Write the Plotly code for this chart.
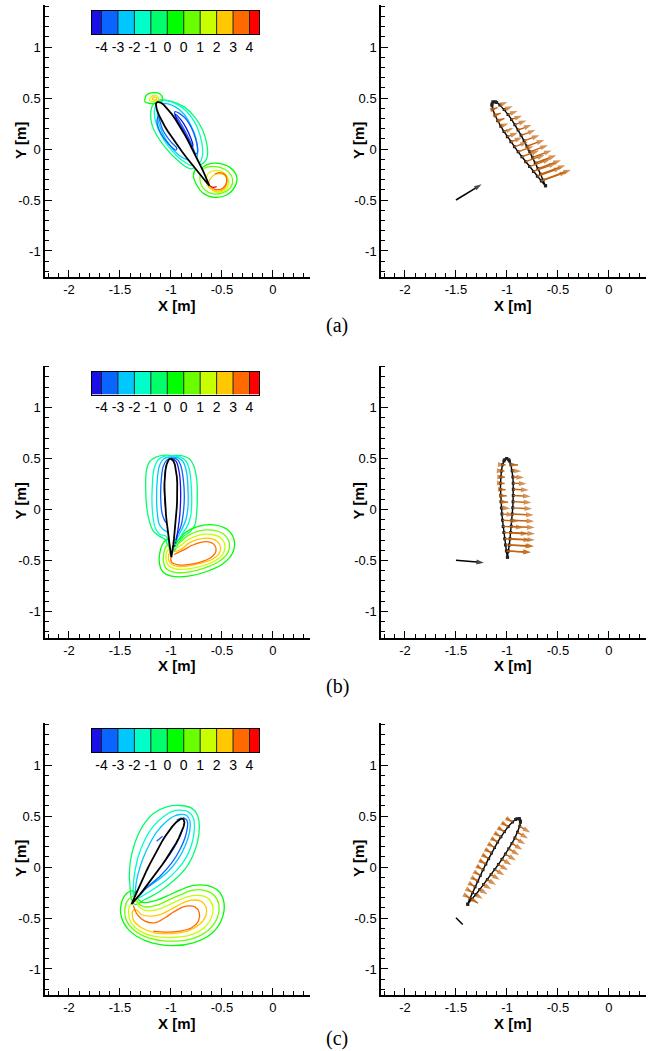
import numpy as np
import plotly.graph_objects as go

# ---------------- data ----------------
CB_COLORS = ["#1a10e8", "#0a64ff", "#00c8ff", "#00ffc8", "#00ff6a", "#00ff00",
             "#6aff00", "#c8ff00", "#ffc800", "#ff6a00", "#ff0000"]
CB_LEVELS = [-4.05, -3.15, -2.25, -1.35, -0.45, 0.45, 1.35, 2.25, 3.15, 4.05]
CB_LABELS = ["-4", "-3", "-2", "-1", "0", "0", "1", "2", "3", "4"]
CB_ENDS = [-4.57, 4.57]

X_TICKS = [-2, -1.5, -1, -0.5, 0]
X_TICK_TEXT = ["-2", "-1.5", "-1", "-0.5", "0"]
Y_TICKS = [-1, -0.5, 0, 0.5, 1]
Y_TICK_TEXT = ["-1", "-0.5", "0", "0.5", "1"]
X_RANGE = [-2.235, 0.36]
Y_RANGE = [-1.255, 1.412]

# symmetric foil: chord stations and half thickness (fraction of chord)
FOIL_S = [0, 0.0125, 0.025, 0.0625, 0.125, 0.1875, 0.25, 0.3125, 0.375, 0.4375,
          0.5, 0.5625, 0.625, 0.6875, 0.75, 0.8125, 0.875, 0.9375, 1.0]
FOIL_T = [0, 0.0205, 0.0283, 0.0423, 0.0548, 0.0613, 0.0644, 0.0650, 0.0638,
          0.0611, 0.0574, 0.0526, 0.0472, 0.0410, 0.0342, 0.0269, 0.0190,
          0.0105, 0.0014]

FOIL_LE = {"a": (-1.137, 0.462), "b": (-1.003, 0.500), "c": (-0.879, 0.473)}
FOIL_TE = {"a": (-0.622, -0.360), "b": (-0.995, -0.468), "c": (-1.385, -0.365)}

# arrows at stations 0.0625 ... 0.9375 (indices into FOIL_S)
ARROW_IDX = list(range(3, 18))
ARROW_ANGLE = {"a": 20.0, "b": -3.0, "c": -31.0}
ARROW_LEN_UP = {
    "a": [0.08, 0.09, 0.10, 0.11, 0.12, 0.14, 0.15, 0.16, 0.18, 0.19, 0.20, 0.22, 0.24, 0.26, 0.29],
    "b": [0.07, 0.09, 0.11, 0.13, 0.15, 0.17, 0.18, 0.19, 0.21, 0.22, 0.23, 0.24, 0.245, 0.245, 0.22],
    "c": [0.12, 0.12, 0.12, 0.12, 0.12, 0.12, 0.11, 0.11, 0.11, 0.10, 0.10, 0.09, 0.09, 0.08, 0.07],
}
ARROW_LEN_LO = {
    "a": [0.05, 0.06, 0.07, 0.08, 0.10, 0.11, 0.12, 0.14, 0.16, 0.18, 0.20, 0.22, 0.24, 0.25, 0.27],
    "b": [0.03, 0.03, 0.04, 0.04, 0.05, 0.06, 0.07, 0.09, 0.12, 0.16, 0.20, 0.24, 0.26, 0.27, 0.24],
    "c": [0.07, 0.07, 0.07, 0.07, 0.07, 0.07, 0.07, 0.07, 0.07, 0.07, 0.06, 0.06, 0.06, 0.05, 0.05],
}
LOWER_TIP_ON_SURFACE = {"a": False, "b": False, "c": True}
REF_ARROW_BASE = {"a": (-1.5, -0.5), "b": (-1.5, -0.497), "c": (-1.5, -0.498)}
REF_ARROW_VEC = {"a": (0.252, 0.154), "b": (0.275, -0.025), "c": (0.066, -0.066)}

# contour lines: (colour index, x list, y list, closed)
CONTOURS = {
    "a": [
        (4, [-1.124, -0.993, -0.863, -0.765, -0.690, -0.650, -0.642, -0.660, -0.700, -0.745, -0.800, -0.845, -0.938, -1.049, -1.141, -1.190, -1.199, -1.180],
            [0.480, 0.467, 0.408, 0.310, 0.186, 0.056, -0.060, -0.115, -0.150, -0.165, -0.195, -0.180, -0.108, 0.007, 0.137, 0.252, 0.350, 0.431], True),
        (3, [-1.092, -0.961, -0.853, -0.771, -0.716, -0.690, -0.696, -0.720, -0.760, -0.800, -0.895, -1.010, -1.098, -1.147, -1.163, -1.141],
            [0.474, 0.448, 0.376, 0.268, 0.137, 0.007, -0.090, -0.135, -0.150, -0.160, -0.108, 0.007, 0.137, 0.258, 0.366, 0.441], True),
        (2, [-1.075, -0.961, -0.873, -0.807, -0.755, -0.739, -0.748, -0.790, -0.830, -0.912, -1.010, -1.082, -1.124, -1.134, -1.114],
            [0.448, 0.415, 0.343, 0.235, 0.105, -0.026, -0.090, -0.110, -0.110, -0.069, 0.033, 0.154, 0.268, 0.366, 0.431], True),
        (1, [-0.960, -0.875, -0.805, -0.755, -0.738, -0.755, -0.795, -0.850, -0.915, -0.965],
            [0.366, 0.317, 0.219, 0.088, -0.026, -0.049, 0.039, 0.154, 0.268, 0.350], True),
        (1, [-1.125, -1.080, -1.003, -0.943, -0.953, -1.023, -1.100, -1.137],
            [0.317, 0.186, 0.072, 0.007, -0.010, 0.049, 0.154, 0.268], True),
        (0, [-0.960, -0.905, -0.850, -0.805, -0.785, -0.795, -0.835, -0.890, -0.945, -0.960],
            [0.340, 0.290, 0.205, 0.105, 0.035, 0.025, 0.100, 0.200, 0.295, 0.340], False),
        (5, [-0.780, -0.748, -0.700, -0.640, -0.536, -0.422, -0.356, -0.373, -0.454, -0.569, -0.683, -0.748],
            [-0.255, -0.190, -0.185, -0.150, -0.140, -0.180, -0.271, -0.369, -0.451, -0.474, -0.435, -0.353], True),
        (6, [-0.716, -0.699, -0.618, -0.520, -0.438, -0.395, -0.415, -0.487, -0.585, -0.667, -0.709],
            [-0.271, -0.205, -0.172, -0.180, -0.222, -0.297, -0.376, -0.428, -0.441, -0.402, -0.337], True),
        (7, [-0.657, -0.634, -0.569, -0.493, -0.444, -0.438, -0.480, -0.559, -0.618, -0.650],
            [-0.304, -0.239, -0.212, -0.225, -0.278, -0.353, -0.408, -0.422, -0.386, -0.343], True),
        (8, [-0.625, -0.560, -0.490, -0.455, -0.455, -0.500, -0.570, -0.618],
            [-0.375, -0.410, -0.400, -0.350, -0.280, -0.245, -0.250, -0.300], True),
        (9, [-0.618, -0.569, -0.493, -0.454, -0.467, -0.520, -0.569],
            [-0.363, -0.395, -0.386, -0.320, -0.255, -0.232, -0.245], False),
        (10, [-0.618, -0.585, -0.552], [-0.363, -0.376, -0.369], False),
        (5, [-1.255, -1.239, -1.173, -1.108, -1.082, -1.098, -1.160, -1.225],
            [0.464, 0.529, 0.552, 0.539, 0.497, 0.454, 0.445, 0.450], True),
        (7, [-1.210, -1.190, -1.155, -1.125, -1.130, -1.170],
            [0.480, 0.515, 0.525, 0.505, 0.475, 0.465], True),
        (8, [-1.185, -1.165, -1.140, -1.150], [0.490, 0.510, 0.500, 0.480], True),
    ],
    "b": [
        (4, [-0.993, -0.895, -0.820, -0.775, -0.748, -0.742, -0.748, -0.765, -0.807, -0.873, -0.928, -0.971, -1.026, -1.059, -1.114, -1.173, -1.212, -1.239, -1.248, -1.239, -1.206, -1.141, -1.059],
            [0.529, 0.529, 0.497, 0.425, 0.294, 0.131, -0.033, -0.147, -0.212, -0.261, -0.333, -0.408, -0.359, -0.294, -0.261, -0.212, -0.114, 0.033, 0.229, 0.392, 0.474, 0.516, 0.533], True),
        (3, [-0.993, -0.912, -0.853, -0.820, -0.801, -0.797, -0.807, -0.840, -0.895, -0.951, -0.984, -1.010, -1.049, -1.108, -1.147, -1.173, -1.186, -1.183, -1.167, -1.124, -1.059],
            [0.523, 0.516, 0.474, 0.392, 0.229, 0.065, -0.065, -0.163, -0.245, -0.343, -0.418, -0.376, -0.261, -0.245, -0.196, -0.098, 0.065, 0.229, 0.392, 0.490, 0.523], True),
        (2, [-0.993, -0.928, -0.879, -0.846, -0.833, -0.833, -0.853, -0.895, -0.944, -0.977, -1.003, -1.026, -1.075, -1.114, -1.134, -1.141, -1.134, -1.114, -1.069],
            [0.513, 0.507, 0.464, 0.359, 0.196, 0.033, -0.098, -0.196, -0.294, -0.392, -0.327, -0.229, -0.196, -0.147, -0.033, 0.131, 0.294, 0.425, 0.497], True),
        (1, [-0.993, -0.938, -0.902, -0.879, -0.869, -0.879, -0.902, -0.944, -0.977, -1.000, -1.020, -1.059, -1.088, -1.101, -1.095, -1.075, -1.042],
            [0.503, 0.490, 0.425, 0.294, 0.131, -0.033, -0.163, -0.261, -0.376, -0.294, -0.163, -0.114, -0.033, 0.131, 0.294, 0.425, 0.484], True),
        (0, [-0.993, -0.951, -0.918, -0.905, -0.912, -0.931, -0.964, -0.990, -1.010, -1.042, -1.062, -1.059, -1.036],
            [0.497, 0.474, 0.359, 0.163, -0.033, -0.196, -0.359, -0.261, -0.098, -0.033, 0.131, 0.327, 0.458], True),
        (5, [-0.938, -0.863, -0.748, -0.585, -0.448, -0.382, -0.395, -0.487, -0.650, -0.830, -0.993, -1.082, -1.114, -1.108, -1.075, -1.026, -0.971],
            [-0.310, -0.229, -0.170, -0.150, -0.196, -0.294, -0.425, -0.529, -0.608, -0.654, -0.654, -0.608, -0.523, -0.418, -0.327, -0.288, -0.301], True),
        (6, [-0.918, -0.840, -0.732, -0.592, -0.480, -0.428, -0.444, -0.526, -0.667, -0.830, -0.977, -1.049, -1.075, -1.069, -1.042, -1.003, -0.951],
            [-0.327, -0.261, -0.212, -0.203, -0.245, -0.327, -0.425, -0.507, -0.572, -0.614, -0.614, -0.578, -0.507, -0.418, -0.353, -0.327, -0.343], True),
        (7, [-0.905, -0.830, -0.722, -0.601, -0.513, -0.471, -0.487, -0.559, -0.683, -0.830, -0.961, -1.026, -1.049, -1.042, -1.010, -0.951],
            [-0.353, -0.294, -0.252, -0.245, -0.278, -0.353, -0.431, -0.497, -0.549, -0.582, -0.582, -0.549, -0.484, -0.418, -0.376, -0.376], True),
        (8, [-0.895, -0.820, -0.716, -0.611, -0.546, -0.513, -0.533, -0.598, -0.716, -0.840, -0.951, -1.010, -1.026, -1.003, -0.944],
            [-0.386, -0.327, -0.288, -0.284, -0.314, -0.376, -0.441, -0.490, -0.529, -0.556, -0.556, -0.523, -0.464, -0.418, -0.408], True),
        (9, [-0.971, -0.879, -0.797, -0.699, -0.618, -0.569, -0.559, -0.592, -0.683, -0.814, -0.928, -0.993, -1.003],
            [-0.441, -0.399, -0.353, -0.320, -0.320, -0.353, -0.408, -0.458, -0.507, -0.539, -0.542, -0.516, -0.474], False),
    ],
    "c": [
        (4, [-0.912, -0.797, -0.739, -0.722, -0.742, -0.788, -0.853, -0.961, -1.108, -1.255, -1.353, -1.386, -1.402, -1.408, -1.395, -1.353, -1.278, -1.173, -1.042],
            [0.603, 0.577, 0.505, 0.384, 0.237, 0.106, -0.008, -0.123, -0.237, -0.319, -0.368, -0.319, -0.188, -0.074, 0.074, 0.237, 0.400, 0.525, 0.590], True),
        (3, [-0.912, -0.830, -0.781, -0.771, -0.797, -0.853, -0.938, -1.059, -1.206, -1.320, -1.363, -1.369, -1.353, -1.320, -1.255, -1.173, -1.075, -0.993],
            [0.557, 0.541, 0.482, 0.368, 0.221, 0.090, -0.025, -0.139, -0.237, -0.302, -0.286, -0.188, -0.041, 0.106, 0.270, 0.400, 0.492, 0.544], True),
        (2, [-0.912, -0.846, -0.814, -0.820, -0.863, -0.928, -1.026, -1.157, -1.288, -1.343, -1.343, -1.320, -1.278, -1.212, -1.134, -1.042, -0.971],
            [0.515, 0.505, 0.449, 0.335, 0.204, 0.080, -0.041, -0.149, -0.237, -0.270, -0.172, -0.057, 0.074, 0.221, 0.351, 0.449, 0.498], True),
        (1, [-0.879, -0.840, -0.853, -0.912, -0.993, -1.108, -1.239, -1.337, -1.353, -1.288, -1.173, -1.059, -0.971, -0.905, -0.873],
            [0.482, 0.449, 0.319, 0.172, 0.041, -0.090, -0.204, -0.302, -0.270, -0.188, -0.074, 0.057, 0.188, 0.319, 0.433], True),
        (1, [-1.141, -1.082], [0.253, 0.302], False),
        (1, [-0.944, -0.895], [0.459, 0.482], False),
        (5, [-1.369, -1.435, -1.487, -1.484, -1.402, -1.239, -1.010, -0.781, -0.601, -0.503, -0.480, -0.533, -0.650, -0.781, -0.912, -1.042, -1.173, -1.288, -1.337],
            [-0.237, -0.260, -0.358, -0.498, -0.629, -0.727, -0.770, -0.743, -0.652, -0.515, -0.351, -0.237, -0.181, -0.181, -0.227, -0.286, -0.335, -0.345, -0.292], True),
        (6, [-1.353, -1.418, -1.451, -1.441, -1.369, -1.222, -1.010, -0.797, -0.634, -0.546, -0.533, -0.585, -0.683, -0.797, -0.912, -1.026, -1.147, -1.255, -1.320],
            [-0.286, -0.319, -0.400, -0.515, -0.613, -0.694, -0.727, -0.704, -0.619, -0.498, -0.358, -0.270, -0.227, -0.230, -0.276, -0.325, -0.377, -0.391, -0.358], True),
        (7, [-1.343, -1.402, -1.415, -1.386, -1.304, -1.173, -0.993, -0.814, -0.676, -0.601, -0.592, -0.644, -0.732, -0.840, -0.944, -1.049, -1.157, -1.255, -1.310],
            [-0.335, -0.377, -0.466, -0.554, -0.629, -0.678, -0.691, -0.668, -0.596, -0.489, -0.377, -0.302, -0.279, -0.292, -0.335, -0.384, -0.423, -0.426, -0.391], True),
        (8, [-1.376, -1.363, -1.288, -1.157, -0.993, -0.840, -0.722, -0.657, -0.657, -0.709, -0.797, -0.895, -1.003, -1.108, -1.206, -1.288, -1.343],
            [-0.433, -0.531, -0.596, -0.645, -0.652, -0.629, -0.564, -0.475, -0.391, -0.335, -0.325, -0.358, -0.417, -0.466, -0.482, -0.466, -0.417], True),
        (9, [-1.369, -1.330, -1.255, -1.157, -1.059, -0.961, -0.853, -0.765, -0.722, -0.732, -0.797, -0.912, -1.042, -1.173],
            [-0.377, -0.466, -0.531, -0.547, -0.498, -0.433, -0.384, -0.391, -0.449, -0.531, -0.596, -0.629, -0.639, -0.629], False),
    ],
}

PANEL_LABELS = {"a": "(a)", "b": "(b)", "c": "(c)"}

# ---------------- layout geometry ----------------
W, H = 652, 1051
ARROW_COLOR = "#c2640f"
PANEL_DY = {"a": 0.0, "b": 360.5, "c": 718.0}
LABEL_Y = {"a": 325, "b": 686, "c": 1038}
X_DOM_L = [45 / W, 309.7 / W]
X_DOM_R = [381 / W, 645.7 / W]
CB_X_DOM = [92 / W, 259 / W]
AX = {"a": (1, 2, 7), "b": (3, 4, 8), "c": (5, 6, 9)}

fig = go.Figure()


def foil_outline(p):
    le = np.array(FOIL_LE[p]); te = np.array(FOIL_TE[p])
    chord = te - le
    c = np.linalg.norm(chord)
    u = chord / c
    n = np.array([-u[1], u[0]])
    s = np.array(FOIL_S); t = np.array(FOIL_T)
    up = le[None, :] + (s * c)[:, None] * u[None, :] + (t * c)[:, None] * n[None, :]
    lo = le[None, :] + (s * c)[:, None] * u[None, :] - (t * c)[:, None] * n[None, :]
    return up, lo


def axname(i, kind):
    return kind if i == 1 else f"{kind}{i}"


for p in ["a", "b", "c"]:
    il, ir, ic = AX[p]
    xl, yl = axname(il, "x"), axname(il, "y")
    xr, yr = axname(ir, "x"), axname(ir, "y")
    xc, yc = axname(ic, "x"), axname(ic, "y")

    # contour lines
    for ci, xs, ys, closed in CONTOURS[p]:
        xs2 = list(xs) + ([xs[0]] if closed else [])
        ys2 = list(ys) + ([ys[0]] if closed else [])
        fig.add_trace(go.Scatter(x=xs2, y=ys2, mode="lines", xaxis=xl, yaxis=yl,
                                 line=dict(color=CB_COLORS[ci], width=1.3, shape="spline", smoothing=1.0),
                                 hoverinfo="skip", showlegend=False))

    up, lo = foil_outline(p)
    ox = list(up[:, 0]) + list(lo[::-1, 0])
    oy = list(up[:, 1]) + list(lo[::-1, 1])
    fig.add_trace(go.Scatter(x=ox, y=oy, mode="lines", xaxis=xl, yaxis=yl, fill="toself",
                             fillcolor="white", line=dict(color="black", width=1.8),
                             hoverinfo="skip", showlegend=False))

    # right panel: outline + arrows
    fig.add_trace(go.Scatter(x=ox, y=oy, mode="lines+markers", xaxis=xr, yaxis=yr,
                             line=dict(color="black", width=1.4),
                             marker=dict(symbol="square", size=3, color="#222222"),
                             hoverinfo="skip", showlegend=False))
    ang = np.deg2rad(ARROW_ANGLE[p])
    d = np.array([np.cos(ang), np.sin(ang)])
    axs, ays, asz = [], [], []
    for k, idx in enumerate(ARROW_IDX):
        b = up[idx]
        tip = b + ARROW_LEN_UP[p][k] * d
        axs += [b[0], tip[0], None]; ays += [b[1], tip[1], None]; asz += [0, 8, 0]
        L = ARROW_LEN_LO[p][k]
        if LOWER_TIP_ON_SURFACE[p]:
            b2 = lo[idx] - L * d; t2 = lo[idx]
        else:
            b2 = lo[idx]; t2 = lo[idx] + L * d
        axs += [b2[0], t2[0], None]; ays += [b2[1], t2[1], None]; asz += [0, 8, 0]
    fig.add_trace(go.Scatter(x=axs, y=ays, mode="lines+markers", xaxis=xr, yaxis=yr,
                             line=dict(color=ARROW_COLOR, width=1.4),
                             marker=dict(symbol="arrow", size=asz, angleref="previous",
                                         color=ARROW_COLOR, line=dict(width=0)),
                             hoverinfo="skip", showlegend=False))
    rb = REF_ARROW_BASE[p]; rv = REF_ARROW_VEC[p]
    fig.add_trace(go.Scatter(x=[rb[0], rb[0] + rv[0]], y=[rb[1], rb[1] + rv[1]],
                             mode="lines+markers", xaxis=xr, yaxis=yr,
                             line=dict(color="black", width=1.5),
                             marker=dict(symbol="arrow", size=[0, 8 if p != "c" else 0],
                                         angleref="previous", color="black", line=dict(width=0)),
                             hoverinfo="skip", showlegend=False))

    # colour legend bar
    edges = [CB_ENDS[0]] + CB_LEVELS + [CB_ENDS[1]]
    nb = len(CB_COLORS)
    cs = []
    for i, col in enumerate(CB_COLORS):
        cs += [[i / nb, col], [(i + 1) / nb, col]]
    fig.add_trace(go.Heatmap(z=[list(range(nb))], x=edges, y=[0, 1], xaxis=xc, yaxis=yc,
                             colorscale=cs, zmin=-0.5, zmax=nb - 0.5, showscale=False,
                             hoverinfo="skip"))
    dx, dy = [], []
    for lv in CB_LEVELS:
        dx += [lv, lv, None]; dy += [0, 1, None]
    fig.add_trace(go.Scatter(x=dx, y=dy, mode="lines", xaxis=xc, yaxis=yc,
                             line=dict(color="#222222", width=1), hoverinfo="skip", showlegend=False))

axis_font = dict(family="Liberation Sans, Arial, sans-serif", size=13, color="black")
cb_font = dict(family="Liberation Sans, Arial, sans-serif", size=14, color="black")
layout = dict(width=W, height=H, margin=dict(l=0, r=0, t=0, b=0),
              paper_bgcolor="white", plot_bgcolor="white", showlegend=False)

minor = dict(ticks="inside", ticklen=4, tickcolor="black", tickwidth=1, dtick=0.1, tick0=0, showgrid=False)
annotations = []
for p in ["a", "b", "c"]:
    il, ir, ic = AX[p]
    off = PANEL_DY[p]
    ydom = [1 - (277 + off) / H, 1 - (5 + off) / H]
    for i, xdom in [(il, X_DOM_L), (ir, X_DOM_R)]:
        yname = axname(i, "y")
        layout[f"xaxis{i if i > 1 else ''}"] = dict(
            domain=xdom, range=X_RANGE, anchor=yname, showgrid=False, zeroline=False,
            showline=True, linecolor="black", linewidth=1.5, ticks="inside", ticklen=7,
            tickwidth=1, tickcolor="black", tickvals=X_TICKS, ticktext=X_TICK_TEXT,
            tickfont=axis_font, minor=minor, fixedrange=True)
        layout[f"yaxis{i if i > 1 else ''}"] = dict(
            domain=ydom, range=Y_RANGE, anchor=axname(i, "x"), showgrid=False, zeroline=False,
            showline=True, linecolor="black", linewidth=1.5, ticks="inside", ticklen=7,
            tickwidth=1, tickcolor="black", tickvals=Y_TICKS, ticktext=Y_TICK_TEXT,
            tickfont=axis_font, minor=minor, fixedrange=True)
    layout[f"xaxis{ic}"] = dict(domain=CB_X_DOM, range=CB_ENDS, anchor=f"y{ic}", showgrid=False,
                                zeroline=False, showline=True, mirror=True, linecolor="black",
                                linewidth=1.2, ticks="", tickvals=CB_LEVELS, ticktext=CB_LABELS,
                                tickfont=cb_font, fixedrange=True)
    layout[f"yaxis{ic}"] = dict(domain=[1 - (34 + off) / H, 1 - (11 + off) / H], range=[0, 1],
                                anchor=f"x{ic}", showgrid=False, zeroline=False, showline=True,
                                mirror=True, linecolor="black", linewidth=1.2, ticks="",
                                showticklabels=False, fixedrange=True)
    title_font = dict(family="Liberation Sans, Arial, sans-serif", size=15, color="black")
    for xc_px in (177, 512.7):
        annotations.append(dict(text="<b>X [m]</b>", x=xc_px / W, y=1 - (305 + off) / H,
                                xref="paper", yref="paper", showarrow=False, font=title_font,
                                xanchor="center", yanchor="middle"))
    for yc_px in (20, 358):
        annotations.append(dict(text="<b>Y [m]</b>", x=yc_px / W, y=1 - (141 + off) / H,
                                xref="paper", yref="paper", showarrow=False, font=title_font,
                                textangle=-90, xanchor="center", yanchor="middle"))
    annotations.append(dict(text=PANEL_LABELS[p], x=337 / W, y=1 - LABEL_Y[p] / H,
                            xref="paper", yref="paper", showarrow=False,
                            font=dict(family="Liberation Serif, Times New Roman, serif", size=20,
                                      color="black"),
                            xanchor="center", yanchor="middle"))
layout["annotations"] = annotations
fig.update_layout(**layout)
fig.write_html("out.html")
